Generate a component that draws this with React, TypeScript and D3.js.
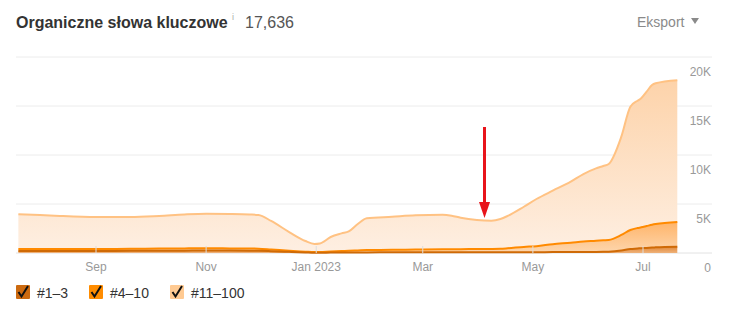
import React from "react";
import * as d3 from "d3";

const dates: string[] = [
  "2022-07-20", "2022-08-01", "2022-08-12", "2022-09-01", "2022-09-20", "2022-10-06",
  "2022-10-20", "2022-11-01", "2022-11-14", "2022-11-25", "2022-11-30", "2022-12-07",
  "2022-12-17", "2022-12-26", "2022-12-31", "2023-01-03", "2023-01-09", "2023-01-15",
  "2023-01-19", "2023-01-24", "2023-01-29", "2023-02-12", "2023-02-25", "2023-03-12",
  "2023-03-17", "2023-03-22", "2023-03-31", "2023-04-08", "2023-04-13", "2023-04-17",
  "2023-04-26", "2023-05-03", "2023-05-12", "2023-05-22", "2023-05-29", "2023-06-05",
  "2023-06-09", "2023-06-12", "2023-06-19", "2023-06-24", "2023-06-28", "2023-06-30",
  "2023-07-03", "2023-07-06", "2023-07-08", "2023-07-20",
];

const top1to3: number[] = [
  200, 200, 210, 210, 220, 230, 240, 250, 250, 240, 230, 190, 120, 60, 30, 30, 40, 50,
  50, 60, 60, 70, 70, 70, 70, 70, 70, 70, 70, 70, 80, 80, 90, 90, 100, 110, 120, 130,
  250, 410, 460, 490, 520, 560, 580, 640,
];

const top4to10: number[] = [
  210, 220, 210, 200, 210, 220, 230, 230, 220, 220, 210, 170, 120, 80, 70, 80, 120, 150,
  170, 200, 240, 250, 280, 310, 310, 320, 330, 340, 360, 410, 540, 620, 810, 960, 1080,
  1140, 1180, 1200, 1590, 1940, 2090, 2130, 2230, 2320, 2370, 2520,
];

const top11to100: number[] = [
  3540, 3460, 3360, 3260, 3240, 3330, 3460, 3520, 3510, 3470, 3440, 2910, 1900, 1080, 820,
  860, 1470, 1800, 1980, 2700, 3240, 3380, 3500, 3530, 3430, 3210, 2970, 2890, 3040, 3300,
  4100, 4810, 5460, 6230, 6880, 7390, 7580, 7750, 10030, 12580, 12990, 13170, 13710,
  14260, 14370, 14476,
];

const yTicks: number[] = [0, 5000, 10000, 15000, 20000];
const yTickLabels: string[] = ["0", "5K", "10K", "15K", "20K"];
const seriesKeys: string[] = ["p1", "p2", "p3"];
const legendLabels: string[] = ["#1–3", "#4–10", "#11–100"];
const title = "Organiczne słowa kluczowe";
const totalLabel = "17,636";

const FONT = "Arial, 'Liberation Sans', Helvetica, sans-serif";

export default function App() {
  const parse = d3.timeParse("%Y-%m-%d");
  const rows = dates.map((d, i) => ({
    date: parse(d) as Date,
    p1: top1to3[i],
    p2: top4to10[i],
    p3: top11to100[i],
  }));

  const x = d3
    .scaleTime()
    .domain([new Date(2022, 8, 1), new Date(2023, 6, 1)])
    .range([96, 643]);
  const y = d3.scaleLinear().domain([0, 20000]).range([253, 57]);

  const stacked = d3.stack<any>().keys(seriesKeys)(rows);

  const area = d3
    .area<any>()
    .x((d) => x(d.data.date))
    .y0((d) => y(d[0]))
    .y1((d) => y(d[1]))
    .curve(d3.curveMonotoneX);
  const line = d3
    .line<any>()
    .x((d) => x(d.data.date))
    .y((d) => y(d[1]))
    .curve(d3.curveMonotoneX);

  const lineColors = ["#cf6a06", "#ff8a00", "#ffc283"];
  const gradIds = ["g1", "g2", "g3"];
  const legendColors = ["#cc6a10", "#ff8c00", "#ffca92"];

  const xTicks = d3.timeMonth.every(2)!.range(new Date(2022, 7, 15), new Date(2023, 6, 15));
  const fmt = (d: Date) => (d.getMonth() === 0 ? d3.timeFormat("%b %Y")(d) : d3.timeFormat("%b")(d));

  const legendX = [16, 89, 170];

  return (
    <svg
      width={729}
      height={314}
      style={{ position: "absolute", left: 0, top: 0, background: "#fff" }}
      fontFamily={FONT}
    >
      <defs>
        <linearGradient id="g3" x1="0" y1="0" x2="0" y2="1">
          <stop offset="0%" stopColor="#fdd3aa" />
          <stop offset="100%" stopColor="#feefe2" />
        </linearGradient>
        <linearGradient id="g2" x1="0" y1="0" x2="0" y2="1">
          <stop offset="0%" stopColor="#ffb469" />
          <stop offset="100%" stopColor="#fdd6ad" />
        </linearGradient>
        <linearGradient id="g1" x1="0" y1="0" x2="0" y2="1">
          <stop offset="0%" stopColor="#e0893a" />
          <stop offset="100%" stopColor="#efb27a" />
        </linearGradient>
      </defs>

      <text x={16} y={28} fontSize={16} fontWeight="bold" fill="#333">
        {title}
      </text>
      <text x={232} y={20} fontSize={9} fill="#aaa">
        i
      </text>
      <text x={245} y={28} fontSize={16} fill="#555">
        {totalLabel}
      </text>
      <text x={637} y={27} fontSize={14} fill="#8a8a8a">
        Eksport
      </text>
      <path d="M691,18 L699,18 L695,24 Z" fill="#8a8a8a" />

      {yTicks.map((t, i) => (
        <g key={t}>
          <line x1={16} x2={712} y1={y(t)} y2={y(t)} stroke={t === 0 ? "#e2e2e2" : "#ececec"} strokeWidth={1} />
          <text x={711} y={y(t) + 19} fontSize={12} fill="#999" textAnchor="end">
            {yTickLabels[i]}
          </text>
        </g>
      ))}

      {stacked
        .slice()
        .reverse()
        .map((s) => {
          const i = seriesKeys.indexOf(s.key);
          return <path key={s.key} d={area(s) || ""} fill={`url(#${gradIds[i]})`} />;
        })}
      {stacked.slice().reverse().map((s) => {
        const i = seriesKeys.indexOf(s.key);
        return <path key={s.key + "l"} d={line(s) || ""} fill="none" stroke={lineColors[i]} strokeWidth={2} />;
      })}

      {xTicks.map((t) => (
        <g key={+t}>
          <line x1={x(t)} x2={x(t)} y1={246} y2={253} stroke="#ddd" strokeWidth={1} />
          <text x={x(t)} y={271} fontSize={12} fill="#999" textAnchor="middle">
            {fmt(t)}
          </text>
        </g>
      ))}

      <line x1={484.5} x2={484.5} y1={127} y2={204} stroke="#e8141b" strokeWidth={3} />
      <path d="M479,202 L490,202 L484.5,218 Z" fill="#e8141b" />

      {legendLabels.map((l, i) => (
        <g key={l} transform={`translate(${legendX[i]},285)`}>
          <rect x={0} y={0} width={14} height={14} fill={legendColors[i]} rx={1} />
          <path d="M2.5,7 L5.5,11.5 L12,1" fill="none" stroke="#111" strokeWidth={2} />
          <text x={21} y={12.5} fontSize={14} fill="#333">
            {l}
          </text>
        </g>
      ))}
    </svg>
  );
}
